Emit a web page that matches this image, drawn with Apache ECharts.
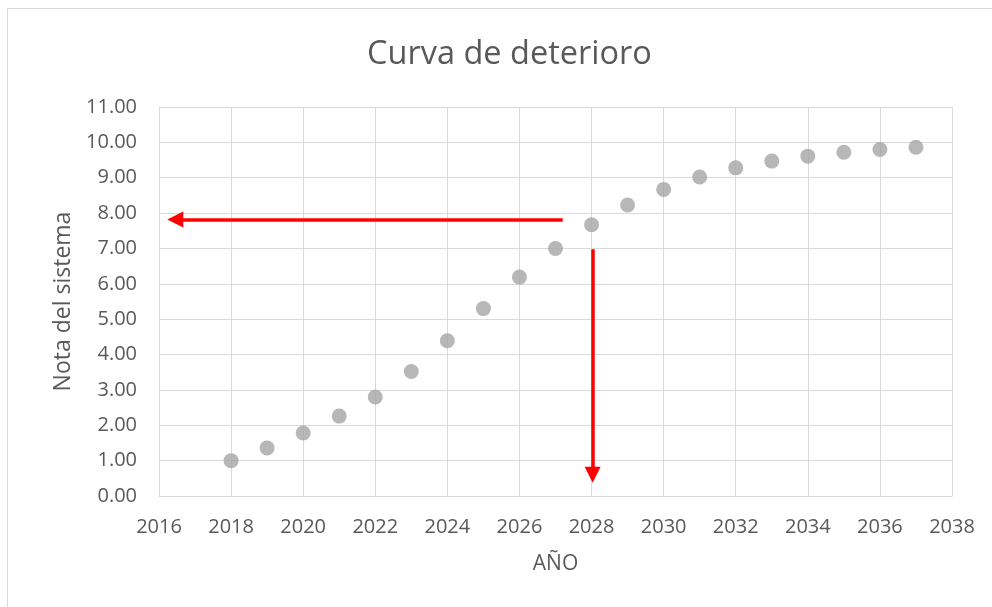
<!DOCTYPE html>
<html>
<head>
<meta charset="utf-8">
<script src="https://cdn.jsdelivr.net/npm/echarts@6/dist/echarts.min.js"></script>
<style>html,body{margin:0;padding:0;background:#fff;}#c{width:992px;height:607px;}</style>
</head>
<body>
<div id="c"></div>
<script>
const years = [2018,2019,2020,2021,2022,2023,2024,2025,2026,2027,2028,2029,2030,2031,2032,2033,2034,2035,2036,2037];
const notas = [1.00,1.36,1.78,2.26,2.80,3.52,4.39,5.30,6.19,7.00,7.67,8.23,8.67,9.02,9.28,9.47,9.61,9.72,9.80,9.86];
const xTicks = {min:2016, max:2038, step:2};
const yTicks = {min:0, max:11, step:1};
const arrowH = [[2027.2, 7.82], [2016.45, 7.82]];
const arrowV = [[2028.03, 6.98], [2028.03, 0.6]];

const FONT = "'Open Sans', 'Liberation Sans', sans-serif";
const TXT = '#595959';
const GRID = '#d9d9d9';

const chart = echarts.init(document.getElementById('c'), null, {renderer:'canvas'});
chart.setOption({
  animation:false,
  backgroundColor:'#fff',
  graphic:[{type:'rect', shape:{x:7.5,y:8.5,width:1100,height:700}, style:{fill:'none', stroke:GRID, lineWidth:1}, silent:true}],
  title:{text:'Curva de deterioro', left:362, top:33, textStyle:{fontFamily:FONT, fontSize:32.5, fontWeight:'normal', color:TXT}},
  grid:{left:159, right:40, top:107, bottom:111},
  xAxis:{type:'value', min:xTicks.min, max:xTicks.max, interval:xTicks.step,
    name:'AÑO', nameLocation:'middle', nameGap:58, nameTextStyle:{fontFamily:FONT, fontSize:21, color:TXT},
    axisLine:{show:true, lineStyle:{color:GRID, width:1}}, axisTick:{show:false},
    axisLabel:{formatter:v=>String(v), fontFamily:FONT, fontSize:20, color:TXT, margin:21},
    splitLine:{show:true, lineStyle:{color:GRID, width:1}}},
  yAxis:{type:'value', min:yTicks.min, max:yTicks.max, interval:yTicks.step,
    name:'Nota del sistema', nameLocation:'middle', nameGap:84, nameTextStyle:{fontFamily:FONT, fontSize:23, color:TXT},
    axisLine:{show:true, lineStyle:{color:GRID, width:1}}, axisTick:{show:false},
    axisLabel:{formatter:v=>v.toFixed(2), fontFamily:FONT, fontSize:20, color:TXT, margin:22},
    splitLine:{show:true, lineStyle:{color:GRID, width:1}}},
  series:[
    {type:'scatter', data:years.map((y,i)=>[y,notas[i]]), symbol:'circle', symbolSize:15, itemStyle:{color:'#a5a5a5'}},
    {type:'lines', coordinateSystem:'cartesian2d', silent:true, symbol:['none','triangle'], symbolSize:[0,16],
      lineStyle:{color:'#ff0000', width:3.5, opacity:1}, itemStyle:{color:'#ff0000'},
      data:[{coords:arrowH},{coords:arrowV}]}
  ]
});
</script>
</body>
</html>
